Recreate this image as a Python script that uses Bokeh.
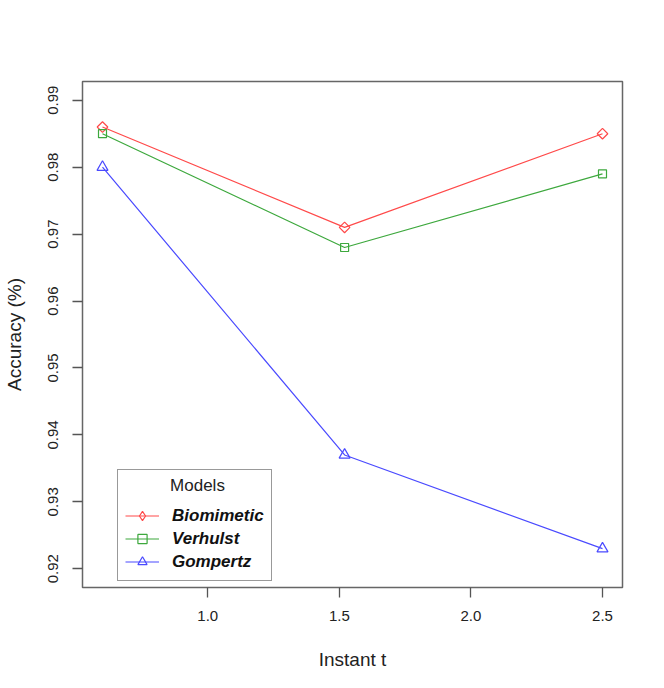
import math
from bokeh.plotting import figure
from bokeh.models import (Range1d, FixedTicker, PrintfTickFormatter, Legend, LegendItem,
                          ColumnDataSource, Label)
from bokeh.embed import file_html
from bokeh.resources import INLINE

# data
instants = [0.6, 1.52, 2.5]
biomimetic = [0.986, 0.971, 0.985]
verhulst = [0.985, 0.968, 0.979]
gompertz = [0.980, 0.937, 0.923]
x_ticks = [1.0, 1.5, 2.0, 2.5]
y_ticks = [0.92, 0.93, 0.94, 0.95, 0.96, 0.97, 0.98, 0.99]
series_names = ["Biomimetic", "Verhulst", "Gompertz"]
legend_title = "Models"
colors = ["#FF4A4A", "#3DA83D", "#4A4AFF"]

FONT = "Liberation Sans"

p = figure(width=648, height=672, output_backend="svg", toolbar_location=None,
           x_range=Range1d(0.524, 2.576), y_range=Range1d(0.9172, 0.9928),
           min_border_left=81, min_border_right=26, min_border_top=81, min_border_bottom=85)
p.background_fill_color = "white"
p.border_fill_color = "white"
p.outline_line_color = "#666666"
p.outline_line_width = 1.5
p.grid.visible = False

p.xaxis.ticker = FixedTicker(ticks=x_ticks)
p.yaxis.ticker = FixedTicker(ticks=y_ticks)
p.xaxis.formatter = PrintfTickFormatter(format="%.1f")
p.yaxis.formatter = PrintfTickFormatter(format="%.2f")
p.yaxis.major_label_orientation = "vertical"
for ax in (p.xaxis, p.yaxis):
    ax.axis_line_color = None
    ax.major_tick_line_color = "#555555"
    ax.major_tick_line_width = 1.3
    ax.major_tick_out = 10
    ax.major_tick_in = 0
    ax.minor_tick_line_color = None
    ax.major_label_text_font = FONT
    ax.major_label_text_font_size = "15px"
    ax.major_label_text_color = "#222222"
    ax.axis_label_text_font = FONT
    ax.axis_label_text_font_size = "19px"
    ax.axis_label_text_font_style = "normal"
    ax.axis_label_text_color = "#222222"
p.xaxis.axis_label = "Instant t"
p.yaxis.axis_label = "Accuracy (%)"
p.xaxis.major_label_standoff = 13
p.yaxis.major_label_standoff = 14
p.xaxis.axis_label_standoff = 25
p.yaxis.axis_label_standoff = 21

series = [biomimetic, verhulst, gompertz]
items = []
for name, ys, col in zip(series_names, series, colors):
    ln = p.line(instants, ys, line_color=col, line_width=1.2)
    if name == "Biomimetic":
        p.scatter(instants, ys, marker="square", size=7.5, angle=math.pi / 4,
                  fill_color=None, line_color=col, line_width=1.2)
        # legend-only diamond (legend markers are never rotated); NaN point is not drawn
        mk = p.scatter(x="x", y="y", source=ColumnDataSource(dict(x=[float("nan")], y=[float("nan")])),
                       marker="diamond", size=12, fill_color=None, line_color=col, line_width=1.2)
    elif name == "Verhulst":
        mk = p.scatter(instants, ys, marker="square", size=8,
                       fill_color=None, line_color=col, line_width=1.2)
    else:
        mk = p.scatter(instants, ys, marker="triangle", size=11,
                       fill_color=None, line_color=col, line_width=1.2)
    items.append(LegendItem(label=name, renderers=[ln, mk]))

legend = Legend(items=items, location=(35, 6), title=" ",
                title_text_font=FONT, title_text_font_size="17px",
                title_text_font_style="normal", title_text_color="#222222",
                title_standoff=7,
                label_text_font=FONT, label_text_font_size="17px",
                label_text_font_style="bold italic", label_text_color="#111111",
                glyph_width=34, glyph_height=23, label_height=23, spacing=0,
                label_standoff=13, padding=7, margin=0,
                border_line_color="#333333", border_line_width=1.3,
                background_fill_alpha=0.0)
p.add_layout(legend, "center")

# centred legend title (R style)
p.add_layout(Label(x=115, y=102, x_units="screen", y_units="screen", text=legend_title,
                   text_align="center", text_baseline="middle",
                   text_font=FONT, text_font_size="17px", text_color="#222222"))

open("out.html", "w").write(file_html(p, INLINE))
